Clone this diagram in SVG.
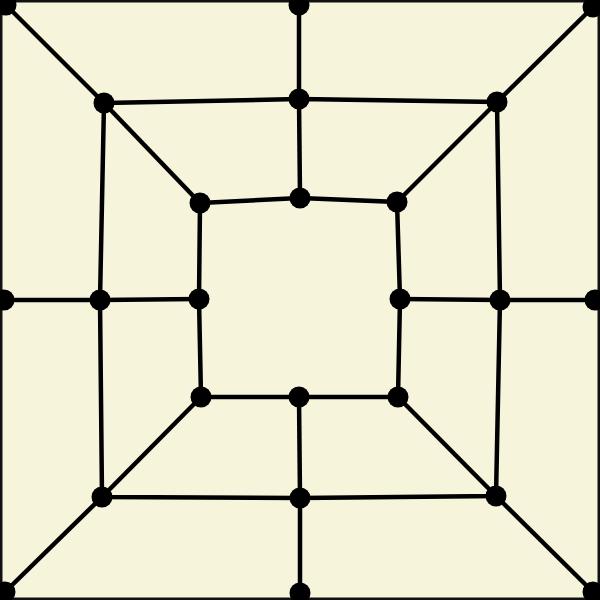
<svg xmlns="http://www.w3.org/2000/svg" width="600" height="600" viewBox="0 0 600 600">
<style>
.e{stroke:#000;stroke-width:4.5;fill:none;stroke-linecap:butt}
.n{fill:#000}
</style>
<rect x="0" y="0" width="600" height="600" fill="#f7f4dc"/>
<rect x="1" y="1" width="598" height="598" fill="none" stroke="#111" stroke-width="3"/>
<g id="connectors" class="e">
<line x1="6" y1="5" x2="104" y2="103"/>
<line x1="593" y1="7" x2="497" y2="102"/>
<line x1="5" y1="592" x2="102" y2="497"/>
<line x1="593" y1="592" x2="496" y2="496"/>
<line x1="104" y1="103" x2="200" y2="203"/>
<line x1="497" y1="102" x2="397" y2="202"/>
<line x1="102" y1="497" x2="201" y2="397"/>
<line x1="496" y1="496" x2="398" y2="397"/>
<line x1="299" y1="5" x2="299" y2="99"/>
<line x1="299" y1="99" x2="300" y2="198"/>
<line x1="300" y1="593" x2="300" y2="498"/>
<line x1="300" y1="498" x2="299" y2="397"/>
<line x1="4" y1="300" x2="100" y2="300"/>
<line x1="100" y1="300" x2="199" y2="299"/>
<line x1="595" y1="300" x2="500" y2="300"/>
<line x1="500" y1="300" x2="400" y2="299"/>
<polygon points="104,103 299,99 497,102 500,300 496,496 300,498 102,497 100,300"/>
<polygon points="200,203 300,198 397,202 400,299 398,397 299,397 201,397 199,299"/>
</g>
<g id="n-o-tl"><circle class="n" cx="6" cy="5" r="10.5"/></g>
<g id="n-o-t"><circle class="n" cx="299" cy="5" r="10.5"/></g>
<g id="n-o-tr"><circle class="n" cx="593" cy="7" r="10.5"/></g>
<g id="n-o-l"><circle class="n" cx="4" cy="300" r="10.5"/></g>
<g id="n-o-r"><circle class="n" cx="595" cy="300" r="10.5"/></g>
<g id="n-o-bl"><circle class="n" cx="5" cy="592" r="10.5"/></g>
<g id="n-o-b"><circle class="n" cx="300" cy="593" r="10.5"/></g>
<g id="n-o-br"><circle class="n" cx="593" cy="592" r="10.5"/></g>
<g id="n-m-tl"><circle class="n" cx="104" cy="103" r="10.5"/></g>
<g id="n-m-t"><circle class="n" cx="299" cy="99" r="10.5"/></g>
<g id="n-m-tr"><circle class="n" cx="497" cy="102" r="10.5"/></g>
<g id="n-m-l"><circle class="n" cx="100" cy="300" r="10.5"/></g>
<g id="n-m-r"><circle class="n" cx="500" cy="300" r="10.5"/></g>
<g id="n-m-bl"><circle class="n" cx="102" cy="497" r="10.5"/></g>
<g id="n-m-b"><circle class="n" cx="300" cy="498" r="10.5"/></g>
<g id="n-m-br"><circle class="n" cx="496" cy="496" r="10.5"/></g>
<g id="n-i-tl"><circle class="n" cx="200" cy="203" r="10.5"/></g>
<g id="n-i-t"><circle class="n" cx="300" cy="198" r="10.5"/></g>
<g id="n-i-tr"><circle class="n" cx="397" cy="202" r="10.5"/></g>
<g id="n-i-l"><circle class="n" cx="199" cy="299" r="10.5"/></g>
<g id="n-i-r"><circle class="n" cx="400" cy="299" r="10.5"/></g>
<g id="n-i-bl"><circle class="n" cx="201" cy="397" r="10.5"/></g>
<g id="n-i-b"><circle class="n" cx="299" cy="397" r="10.5"/></g>
<g id="n-i-br"><circle class="n" cx="398" cy="397" r="10.5"/></g>
</svg>
